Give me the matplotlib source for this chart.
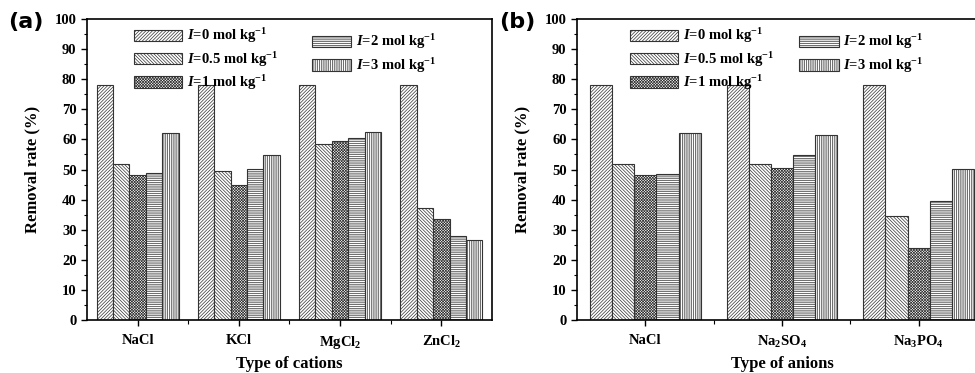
import numpy as np
import matplotlib
matplotlib.use("Agg")
import matplotlib.pyplot as plt

plt.rcParams['font.family'] = ['Liberation Serif', 'DejaVu Serif']
plt.rcParams['font.weight'] = 'bold'
plt.rcParams['mathtext.fontset'] = 'custom'
plt.rcParams['mathtext.rm'] = 'Liberation Serif:bold'
plt.rcParams['mathtext.bf'] = 'Liberation Serif:bold'
plt.rcParams['mathtext.it'] = 'Liberation Serif:bold:italic'
plt.rcParams['hatch.linewidth'] = 0.5
plt.rcParams['hatch.color'] = '#666666'

# data
cations = ['NaCl', 'KCl', r'MgCl$_2$', r'ZnCl$_2$']
anions = ['NaCl', r'Na$_2$SO$_4$', r'Na$_3$PO$_4$']
strengths = ['0', '0.5', '1', '2', '3']

cation_I0 = [78.2, 78.2, 78.2, 78.2]
cation_I05 = [51.8, 49.6, 58.6, 37.3]
cation_I1 = [48.2, 44.8, 59.4, 33.4]
cation_I2 = [48.7, 50.2, 60.5, 27.8]
cation_I3 = [62.0, 54.7, 62.4, 26.5]

anion_I0 = [78.2, 78.2, 78.2]
anion_I05 = [51.7, 52.0, 34.4]
anion_I1 = [48.2, 50.4, 23.8]
anion_I2 = [48.6, 54.7, 39.5]
anion_I3 = [62.0, 61.4, 50.1]

hatches = ['/' * 10, '\\' * 10, 'x' * 12, '-' * 9, '|' * 9]
bar_w = 0.162

fig = plt.figure(figsize=(9.75, 3.73), dpi=100)
ax_a = fig.add_axes([0.0892, 0.142, 0.4154, 0.807])
ax_b = fig.add_axes([0.5918, 0.142, 0.4205, 0.807])


def draw_panel(ax, cats, series, xlabel, leg_pos):
    x = np.arange(len(cats))
    bars = []
    for i, vals in enumerate(series):
        b = ax.bar(x + (i - 2) * bar_w, vals, bar_w, color='white',
                   edgecolor='#333333', linewidth=0.8, hatch=hatches[i],
                   label=r'$I$=' + strengths[i] + r' mol kg$^{-1}$')
        bars.append(b)
    ax.set_xlim(-0.5, len(cats) - 0.5)
    ax.set_ylim(0, 100)
    ax.set_yticks(np.arange(0, 101, 10))
    ax.set_yticks(np.arange(0, 101, 5), minor=True)
    ax.set_xticks(x)
    ax.set_xticks(x[:-1] + 0.5, minor=True)
    ax.set_xticklabels(cats, fontsize=10.5, fontweight='bold')
    ax.tick_params(axis='y', labelsize=10.5, direction='out', length=4, width=1)
    ax.tick_params(axis='y', which='minor', direction='out', length=2, width=0.8)
    ax.tick_params(axis='x', direction='out', length=4, width=1, pad=6)
    ax.tick_params(axis='x', which='minor', direction='out', length=3, width=0.8)
    for s in ax.spines.values():
        s.set_linewidth(1.2)
    ax.set_xlabel(xlabel, fontsize=12, fontweight='bold', labelpad=4)
    ax.set_ylabel('Removal rate (%)', fontsize=12, fontweight='bold', labelpad=10)

    l1 = ax.legend(bars[:3], [b.get_label() for b in bars[:3]], loc='upper left',
                   bbox_to_anchor=leg_pos[0], frameon=False, fontsize=10.5,
                   handlelength=3.3, handleheight=0.85, labelspacing=0.3,
                   handletextpad=0.3, borderaxespad=0, borderpad=0)
    ax.add_artist(l1)
    ax.legend(bars[3:], [b.get_label() for b in bars[3:]], loc='upper left',
              bbox_to_anchor=leg_pos[1], frameon=False, fontsize=10.5,
              handlelength=2.7, handleheight=0.85, labelspacing=0.3,
              handletextpad=0.3, borderaxespad=0, borderpad=0)


draw_panel(ax_a, cations, [cation_I0, cation_I05, cation_I1, cation_I2, cation_I3],
           'Type of cations', [(0.117, 0.975), (0.555, 0.955)])
draw_panel(ax_b, anions, [anion_I0, anion_I05, anion_I1, anion_I2, anion_I3],
           'Type of anions', [(0.13, 0.975), (0.542, 0.955)])

fig.text(0.008, 0.94, '(a)', fontsize=16, fontweight='bold', family='DejaVu Sans', va='center')
fig.text(0.512, 0.94, '(b)', fontsize=16, fontweight='bold', family='DejaVu Sans', va='center')

fig.savefig('out.png', dpi=100)
